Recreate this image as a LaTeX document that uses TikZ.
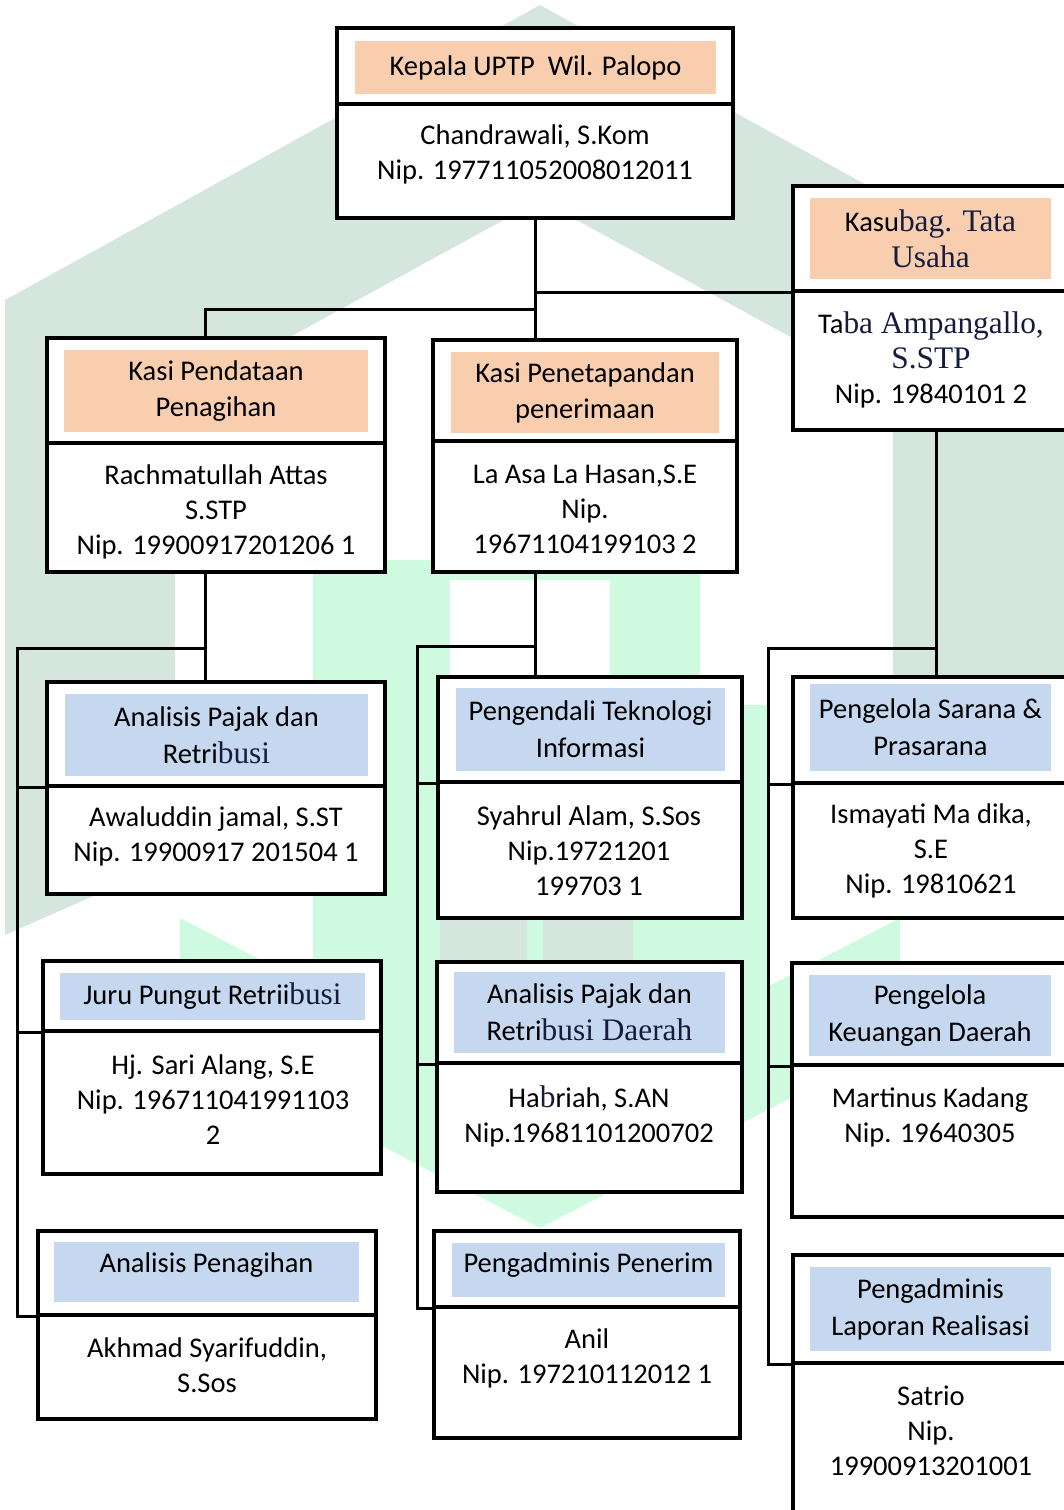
\documentclass[tikz,border=0pt]{standalone}
\usepackage{fontspec}
\setmainfont{Carlito}
\newfontfamily\serifpart[Scale=1.1]{Liberation Serif}
\definecolor{orangefill}{RGB}{248,206,175}
\definecolor{bluefill}{RGB}{197,216,240}
\definecolor{serifink}{RGB}{22,28,62}
\definecolor{wmgrey}{RGB}{212,230,221}
\definecolor{wmmint}{RGB}{206,250,224}
\newcommand{\srf}[1]{{\serifpart\color{serifink}#1}}
\begin{document}
\begin{tikzpicture}[x=1pt,y=-1pt,
  unitbox/.style={draw, line width=3.2pt, fill=white, inner sep=0pt},
  jabatan/.style={fill=orangefill, inner sep=0pt, align=center, font=\fontsize{28.5}{36}\selectfont},
  staf/.style={fill=bluefill, inner sep=0pt, align=center, font=\fontsize{28.5}{37}\selectfont},
  nama/.style={align=center, inner sep=0pt, font=\fontsize{28.5}{35}\selectfont},
  garis/.style={line width=3pt}]
\useasboundingbox (0,0) rectangle (1063,1510);

% watermark
\fill[wmmint] (313,560) rectangle (770,1100);
\fill[white] (450,580) rectangle (610,677);
\fill[white] (700,555) rectangle (790,705);
\fill[wmmint] (180,918) -- (540,1105) -- (900,918) -- (900,1041) -- (540,1228) -- (180,1041) -- cycle;
\fill[wmgrey, rounded corners=6pt] (440,913) rectangle (527,1000);
\fill[wmgrey, rounded corners=6pt] (543,913) rectangle (633,1000);
\fill[wmgrey] (5,935) -- (5,300) -- (540,5) -- (1075,300) -- (1075,880) -- (893,820)
  -- (893,393) -- (540,200) -- (175,400) -- (175,860) -- cycle;

% kepala
\node[unitbox, minimum width=396pt, minimum height=76pt] (kepalaH) at (535,66) {};
\node[unitbox, minimum width=396pt, minimum height=114pt] (kepalaB) at (535,161) {};
\node[jabatan, minimum width=361pt, minimum height=53pt] (kepalaF) at (535.5,67.5) {Kepala UPTP\ \ Wil. Palopo};
\node[nama] (kepalaP) at (535,154) {Chandrawali, S.Kom\\Nip. 197711052008012011};

% kasubag tata usaha
\node[unitbox, minimum width=287pt, minimum height=105pt] (tuH) at (936.5,238.5) {};
\node[unitbox, minimum width=287pt, minimum height=139pt] (tuB) at (936.5,360.5) {};
\node[jabatan, minimum width=241pt, minimum height=81pt] (tuF) at (930.5,238.5) {Kasu\srf{bag. Tata}\\\srf{Usaha}};
\node[nama] (tuP) at (931,359.5) {Ta\srf{ba Ampangallo,}\\\srf{S.STP}\\Nip. 19840101 2};

% kasi pendataan
\node[unitbox, minimum width=338pt, minimum height=105pt] (pendataanH) at (216,390.5) {};
\node[unitbox, minimum width=338pt, minimum height=129pt] (pendataanB) at (216,507.5) {};
\node[jabatan, minimum width=304pt, minimum height=82pt] (pendataanF) at (216,391) {Kasi Pendataan\\Penagihan};
\node[nama] (pendataanP) at (216,512) {Rachmatullah Attas\\S.STP\\Nip. 19900917201206 1};

% kasi penetapan
\node[unitbox, minimum width=304pt, minimum height=101pt] (penetapanH) at (585,390.5) {};
\node[unitbox, minimum width=304pt, minimum height=131pt] (penetapanB) at (585,506.5) {};
\node[jabatan, minimum width=268pt, minimum height=81pt] (penetapanF) at (585,392.5) {Kasi Penetapandan\\penerimaan};
\node[nama] (penetapanP) at (585,509.5) {La Asa La Hasan,S.E\\Nip.\\19671104199103 2};

% kolom kiri
\node[unitbox, minimum width=338pt, minimum height=104pt] (aprH) at (216,734) {};
\node[unitbox, minimum width=338pt, minimum height=108pt] (aprB) at (216,840) {};
\node[staf, minimum width=303pt, minimum height=82pt] (aprF) at (216.5,735) {Analisis Pajak dan\\Retri\srf{busi}};
\node[nama] (aprP) at (216,836) {Awaluddin jamal, S.ST\\Nip. 19900917 201504 1};

\node[unitbox, minimum width=338pt, minimum height=70pt] (juruH) at (212,996) {};
\node[unitbox, minimum width=338pt, minimum height=143pt] (juruB) at (212,1102.5) {};
\node[staf, minimum width=305pt, minimum height=47pt] (juruF) at (212.5,996.5) {Juru Pungut Retrii\srf{busi}};
\node[nama] (juruP) at (213,1100) {Hj. Sari Alang, S.E\\Nip. 196711041991103\\2};

\node[unitbox, minimum width=338pt, minimum height=84pt] (penagihanH) at (207,1273) {};
\node[unitbox, minimum width=338pt, minimum height=104pt] (penagihanB) at (207,1367) {};
\node[staf, minimum width=305pt, minimum height=60pt, text depth=18pt] (penagihanF) at (206.5,1272) {Analisis Penagihan};
\node[nama] (penagihanP) at (207,1365) {Akhmad Syarifuddin,\\S.Sos};

% kolom tengah
\node[unitbox, minimum width=304pt, minimum height=105pt] (ptiH) at (590,729.5) {};
\node[unitbox, minimum width=304pt, minimum height=136pt] (ptiB) at (590,850) {};
\node[staf, minimum width=269pt, minimum height=83pt] (ptiF) at (590.5,729.5) {Pengendali Teknologi\\Informasi};
\node[nama] (ptiP) at (589,851) {Syahrul Alam, S.Sos\\Nip.19721201\\199703 1};

\node[unitbox, minimum width=305pt, minimum height=101pt] (aprdH) at (589.5,1012.5) {};
\node[unitbox, minimum width=305pt, minimum height=129pt] (aprdB) at (589.5,1127.5) {};
\node[staf, minimum width=271pt, minimum height=81pt] (aprdF) at (589.5,1012.5) {Analisis Pajak dan\\Retri\srf{busi Daerah}};
\node[nama] (aprdP) at (589,1116) {Ha\srf{b}riah, S.AN\\Nip.19681101200702};

\node[unitbox, minimum width=306pt, minimum height=76pt] (penerimH) at (587,1269) {};
\node[unitbox, minimum width=306pt, minimum height=131pt] (penerimB) at (587,1372.5) {};
\node[staf, minimum width=273pt, minimum height=54pt, text depth=14pt] (penerimF) at (588.5,1270) {Pengadminis Penerim};
\node[nama] (penerimP) at (587,1358) {Anil\\Nip. 197210112012 1};

% kolom kanan
\node[unitbox, minimum width=287pt, minimum height=106pt] (saranaH) at (936.5,730) {};
\node[unitbox, minimum width=287pt, minimum height=135pt] (saranaB) at (936.5,850.5) {};
\node[staf, minimum width=241pt, minimum height=87pt] (saranaF) at (930.5,727.5) {Pengelola Sarana \&\\Prasarana};
\node[nama] (saranaP) at (931,851) {Ismayati Ma dika,\\S.E\\Nip. 19810621};

\node[unitbox, minimum width=288pt, minimum height=102pt] (keuanganH) at (936,1014) {};
\node[unitbox, minimum width=288pt, minimum height=152pt] (keuanganB) at (936,1141) {};
\node[staf, minimum width=242pt, minimum height=81pt] (keuanganF) at (930,1015.5) {Pengelola\\Keuangan Daerah};
\node[nama] (keuanganP) at (930,1117.5) {Martinus Kadang\\Nip. 19640305};

\node[unitbox, minimum width=287pt, minimum height=108pt] (laporanH) at (936.5,1309) {};
\node[unitbox, minimum width=287pt, minimum height=167pt] (laporanB) at (936.5,1446.5) {};
\node[staf, minimum width=241pt, minimum height=84pt] (laporanF) at (930.5,1309) {Pengadminis\\Laporan Realisasi};
\node[nama] (laporanP) at (931,1431) {Satrio\\Nip.\\19900913201001};

% garis komando
\draw[garis] (kepalaB.south) -- (kepalaB.south |- penetapanH.north);
\draw[garis] (kepalaB.south |- tuH.south) -- (tuH.south west);
\coordinate (cabang) at (535,309);
\draw[garis] (cabang) -| ([xshift=-11pt]pendataanH.north);

\draw[garis] ([xshift=-11pt]pendataanB.south) -- ([xshift=-11pt]aprH.north);
\coordinate (busL) at (17,648);
\draw[garis] ([xshift=-11pt]pendataanB.south |- busL) -- (busL) -- (busL |- penagihanH.south) -- (penagihanH.south west);
\draw[garis] (busL |- aprH.south) -- (aprH.south west);
\draw[garis] (busL |- juruH.south) -- (juruH.south west);

\draw[garis] (kepalaB.south |- penetapanB.south) -- (kepalaB.south |- ptiH.north);
\coordinate (busM) at (417,646);
\draw[garis] (kepalaB.south |- busM) -- (busM) -- (busM |- penerimH.south) -- (penerimH.south west);
\draw[garis] (busM |- ptiH.south) -- (ptiH.south west);
\draw[garis] (busM |- aprdH.south) -- (aprdH.south west);

\draw[garis] (tuB.south) -- (tuB.south |- saranaH.north);
\coordinate (busR) at (768,648);
\draw[garis] (tuB.south |- busR) -- (busR) -- (busR |- laporanH.south) -- (laporanH.south west);
\draw[garis] (busR |- saranaH.south) -- (saranaH.south west);
\draw[garis] (busR |- keuanganH.south) -- (keuanganH.south west);
\end{tikzpicture}
\end{document}
